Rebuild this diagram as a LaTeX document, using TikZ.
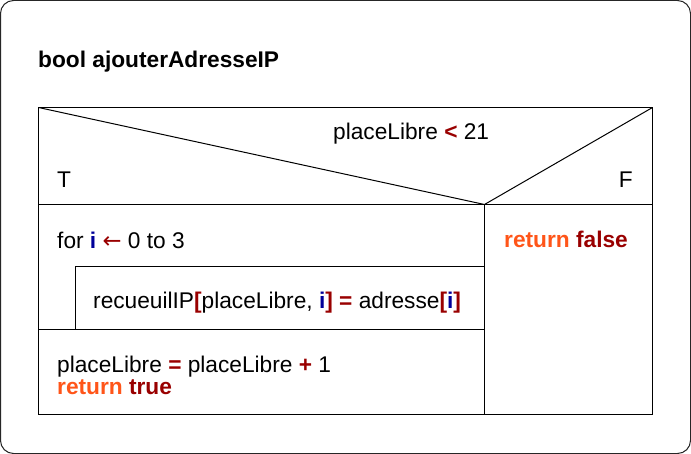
\documentclass[tikz,border=0pt]{standalone}
\usepackage{fontspec}
\setmainfont{Liberation Sans}
\newfontfamily\arrowfont{DejaVu Sans}
\definecolor{kwor}{RGB}{255,85,25}
\definecolor{kwred}{RGB}{153,0,0}
\definecolor{kwblue}{RGB}{0,0,153}
\newcommand{\kr}[1]{\textcolor{kwred}{\textbf{#1}}}
\newcommand{\kb}[1]{\textcolor{kwblue}{\textbf{#1}}}
\newcommand{\ko}[1]{\textcolor{kwor}{\textbf{#1}}}
\begin{document}
\begin{tikzpicture}[x=1pt,y=-1pt,
  txt/.style={anchor=base west,inner sep=0pt,font=\fontsize{22.7}{26}\selectfont},
  ln/.style={draw=black,line width=1pt}]
\useasboundingbox (0,0) rectangle (691,454);
\draw[line width=1pt,draw=black!85,rounded corners=13] (0.5,0.5) rectangle (690.5,453.5);
% main box
\draw[ln] (38.5,107.5) rectangle (652.5,414.5);
\draw[ln] (38.5,107.5) -- (484.5,204.5) -- (652.5,107.5);
\draw[ln] (38.5,204.5) -- (652.5,204.5);
\draw[ln] (484.5,204.5) -- (484.5,414.5);
\draw[ln] (75.5,329.5) -- (75.5,266.5) -- (484.5,266.5);
\draw[ln] (38.5,329.5) -- (484.5,329.5);
% texts
\node[txt,font=\fontsize{22.7}{26}\selectfont\bfseries] (title) at (38,68) {bool ajouterAdresseIP};
\node[txt] (cond) at (333,139.5) {placeLibre \kr{<} 21};
\node[txt] (T) at (57,187.5) {T};
\node[txt,anchor=base east] (F) at (633,187.5) {F};
\node[txt] (for) at (57,248.5) {for \kb{i} \textcolor{kwred}{\arrowfont ←} 0 to 3};
\node[txt] (body) at (93,309) {recueuilIP\kr{[}placeLibre, \kb{i}\kr{]} \kr{=} adresse\kr{[}\kb{i}\kr{]}};
\node[txt] (inc) at (57,372.5) {placeLibre \kr{=} placeLibre \kr{+} 1};
\node[txt] (rt) at (57,395) {\ko{return} \kr{true}};
\node[txt] (rf) at (504,248) {\ko{return} \kr{false}};
\end{tikzpicture}
\end{document}
